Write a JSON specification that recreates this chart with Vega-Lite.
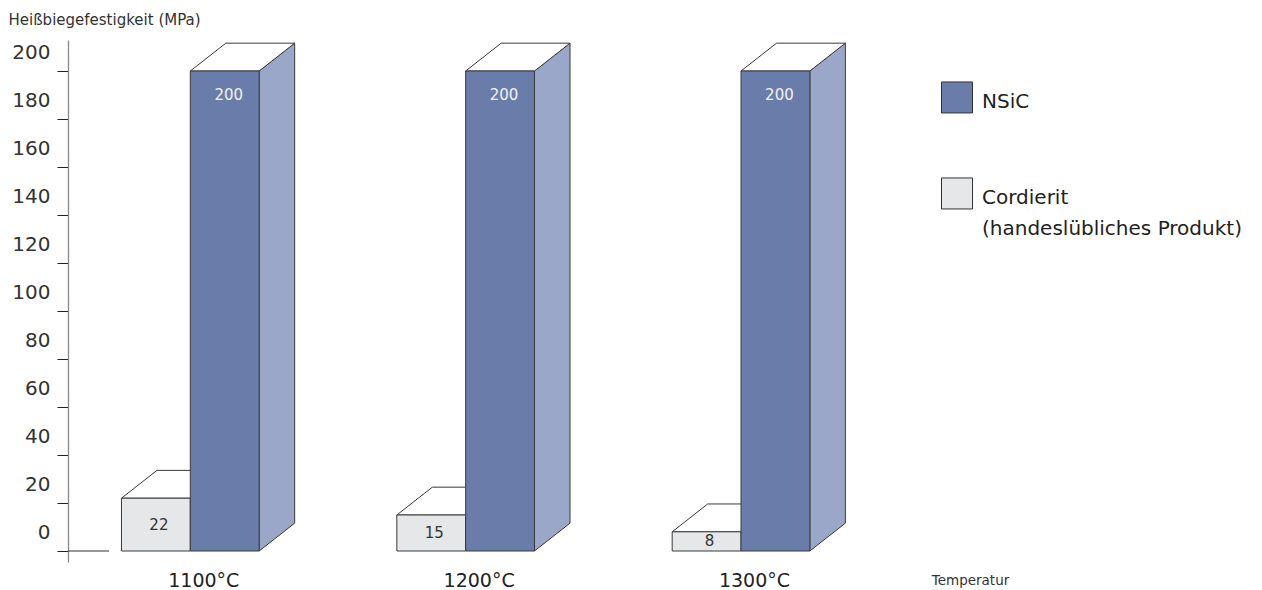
{
  "$schema": "https://vega.github.io/schema/vega-lite/v6.json",
  "width": 1194,
  "height": 522,
  "autosize": {"type": "none"},
  "padding": {"left": 68, "top": 40, "right": 0, "bottom": 28},
  "background": "white",
  "config": {"view": {"stroke": null}, "font": "DejaVu Sans"},
  "data": {
    "values": [
      {"Temperatur": "1100°C", "Material": "Cordierit", "Wert": 22},
      {"Temperatur": "1100°C", "Material": "NSiC", "Wert": 200},
      {"Temperatur": "1200°C", "Material": "Cordierit", "Wert": 15},
      {"Temperatur": "1200°C", "Material": "NSiC", "Wert": 200},
      {"Temperatur": "1300°C", "Material": "Cordierit", "Wert": 8},
      {"Temperatur": "1300°C", "Material": "NSiC", "Wert": 200}
    ]
  },
  "transform": [
    {"calculate": "parseFloat(datum.Temperatur)", "as": "t"},
    {"calculate": "datum.Material == 'NSiC' ? datum.t : datum.t - 25", "as": "x0"},
    {"calculate": "datum.x0 + 25", "as": "x1"},
    {"calculate": "(datum.x0 + datum.x1) / 2", "as": "xc"},
    {"calculate": "datum.Wert / 2", "as": "ym"}
  ],
  "layer": [
    {
      "transform": [
        {"filter": "datum.Material == 'NSiC'"},
        {"calculate": "[0, 1]", "as": "k"},
        {"flatten": ["k"]},
        {"calculate": "datum.x1 + datum.k * 12.9", "as": "xs"},
        {"calculate": "datum.k * 11.6", "as": "ylo"},
        {"calculate": "datum.Wert + datum.k * 11.6", "as": "yhi"}
      ],
      "mark": {"type": "area", "orient": "vertical", "fill": "#9aa7c8", "stroke": "#3a3a3a", "strokeWidth": 1, "strokeJoin": "miter"},
      "encoding": {
        "x": {
          "field": "xs", "type": "quantitative",
          "scale": {"domain": [1055.58, 1489.21], "nice": false, "zero": false},
          "axis": {
            "values": [1100, 1200, 1300],
            "labelExpr": "datum.value + '°C'",
            "ticks": false, "domain": false, "grid": false,
            "labelFontSize": 19, "labelColor": "#222",
            "labelPadding": 18, "labelBaseline": "middle", "labelOffset": 13,
            "labelFlush": false, "labelOverlap": false,
            "title": "Temperatur", "titleFontSize": 13.5, "titleFontWeight": "normal",
            "titleX": 902, "titleY": 22, "titleAlign": "center", "titleBaseline": "alphabetic", "titleColor": "#333"
          }
        },
        "y": {
          "field": "yhi", "type": "quantitative", "stack": null,
          "scale": {"domain": [-4.5833, 212.9167], "nice": false, "zero": false},
          "axis": {
            "values": [0, 20, 40, 60, 80, 100, 120, 140, 160, 180, 200],
            "title": "Heißbiegefestigkeit (MPa)", "titleAngle": 0, "titleAlign": "left",
            "titleBaseline": "alphabetic", "titleX": -60, "titleY": -16,
            "titleFontSize": 15, "titleFontWeight": "normal", "titleColor": "#333",
            "labelFontSize": 20, "labelColor": "#333", "labelBaseline": "middle",
            "labelOffset": -19, "labelPadding": 7, "labelFlush": false, "labelOverlap": false,
            "tickSize": 11, "tickColor": "#222", "domainColor": "#888", "domainWidth": 1.3, "grid": false
          }
        },
        "y2": {"field": "ylo"},
        "detail": {"field": "Temperatur"}
      }
    },
    {
      "transform": [
        {"calculate": "[0, 1]", "as": "k"},
        {"flatten": ["k"]},
        {"calculate": "datum.Wert + datum.k * 11.6", "as": "yt"},
        {"calculate": "datum.x0 + datum.k * 12.9", "as": "xa"},
        {"calculate": "datum.x1 + datum.k * 12.9", "as": "xb"}
      ],
      "mark": {"type": "area", "orient": "horizontal", "fill": "white", "stroke": "#3a3a3a", "strokeWidth": 1, "strokeJoin": "miter"},
      "encoding": {
        "y": {"field": "yt", "type": "quantitative"},
        "x": {"field": "xa", "type": "quantitative", "stack": null},
        "x2": {"field": "xb"},
        "detail": [{"field": "Temperatur"}, {"field": "Material"}]
      }
    },
    {
      "mark": {"type": "rect", "stroke": "#3a3a3a", "strokeWidth": 1},
      "encoding": {
        "x": {"field": "x0", "type": "quantitative"},
        "x2": {"field": "x1"},
        "y": {"field": "Wert", "type": "quantitative"},
        "y2": {"datum": 0},
        "color": {
          "field": "Material", "type": "nominal",
          "scale": {"domain": ["NSiC", "Cordierit"], "range": ["#6a7caa", "#e6e7e8"]},
          "legend": {
            "orient": "none", "legendX": 873, "legendY": 52, "title": null, "padding": 0,
            "symbolType": "M-1,-1.68H1V0.32H-1Z", "symbolSize": 961,
            "symbolStrokeColor": "#333", "symbolStrokeWidth": 1,
            "labelFontSize": 20, "labelColor": "#222", "labelBaseline": "alphabetic",
            "labelOffset": 9, "labelLimit": 400, "rowPadding": 60,
            "labelExpr": "datum.label == 'Cordierit' ? ['Cordierit', '(handeslübliches Produkt)'] : datum.label",
            "encode": {"labels": {"update": {"lineHeight": {"value": 31}}}}
          }
        }
      }
    },
    {
      "transform": [{"filter": "datum.Material == 'NSiC'"}],
      "mark": {"type": "text", "fontSize": 15, "color": "#f2f3f8", "baseline": "middle", "align": "center", "dx": 4, "dy": 24},
      "encoding": {
        "x": {"field": "xc", "type": "quantitative"},
        "y": {"field": "Wert", "type": "quantitative"},
        "text": {"field": "Wert", "type": "quantitative"}
      }
    },
    {
      "transform": [{"filter": "datum.Material == 'Cordierit'"}],
      "mark": {"type": "text", "fontSize": 15, "color": "#333", "baseline": "middle", "align": "center", "dx": 3},
      "encoding": {
        "x": {"field": "xc", "type": "quantitative"},
        "y": {"field": "ym", "type": "quantitative"},
        "text": {"field": "Wert", "type": "quantitative"}
      }
    },
    {
      "data": {"values": [{}]},
      "mark": {"type": "rule", "color": "#333", "strokeWidth": 1},
      "encoding": {
        "x": {"datum": 1055.58, "type": "quantitative"},
        "x2": {"datum": 1070.5},
        "y": {"datum": 0, "type": "quantitative"}
      }
    }
  ]
}
